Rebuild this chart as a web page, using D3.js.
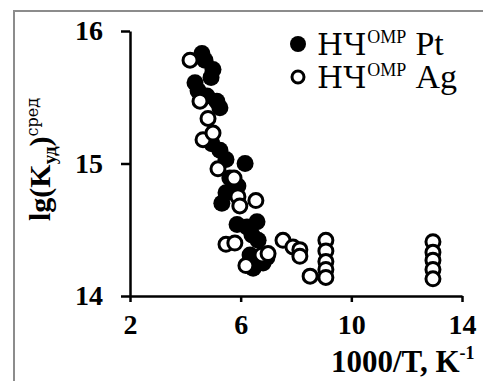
<!DOCTYPE html>
<html>
<head>
<meta charset="utf-8">
<script src="https://cdn.jsdelivr.net/npm/d3@7"></script>
<style>
  body { margin: 0; background: #fff; }
</style>
</head>
<body>
<svg width="483" height="381"></svg>
<script>
// Pt series (filled circles)
const ptX = [4.60, 4.71, 5.00, 4.93, 4.35, 4.46, 4.78, 5.14, 5.25, 4.96, 5.25, 5.47, 6.16, 5.61, 5.90, 5.32, 5.47, 5.87, 6.23, 6.59, 6.41, 6.63, 6.34, 6.45, 6.81, 6.95];
const ptY = [15.83, 15.78, 15.71, 15.65, 15.61, 15.55, 15.51, 15.47, 15.42, 15.15, 15.10, 15.03, 15.00, 14.89, 14.83, 14.70, 14.78, 14.54, 14.52, 14.56, 14.46, 14.42, 14.31, 14.21, 14.25, 14.29];
// Ag series (open circles)
const agX = [4.17, 4.53, 4.82, 4.64, 5.00, 5.18, 5.76, 5.90, 5.97, 6.55, 5.47, 5.79, 6.19, 6.77, 6.99, 7.53, 7.89, 8.14, 8.14, 8.51, 9.08, 9.08, 9.08, 9.08, 9.08, 12.95, 12.95, 12.95, 12.95, 12.95];
const agY = [15.78, 15.47, 15.34, 15.18, 15.23, 14.96, 14.89, 14.75, 14.68, 14.72, 14.39, 14.40, 14.23, 14.31, 14.32, 14.42, 14.37, 14.35, 14.30, 14.15, 14.42, 14.34, 14.26, 14.20, 14.14, 14.41, 14.33, 14.27, 14.20, 14.13];
const xTicks = [2, 6, 10, 14];
const yTicks = [14, 15, 16];

const FONT = '"Liberation Serif", "Times New Roman", serif';
// regular Liberation Serif here has no Cyrillic, so Cyrillic runs use DejaVu Serif
const CYR = '"DejaVu Serif", serif';
const svg = d3.select('svg');

// outer frame
svg.append('path')
  .attr('d', 'M14,381 V11 H483')
  .attr('fill', 'none')
  .attr('stroke', '#8c8c8c')
  .attr('stroke-width', 2);

const x = d3.scaleLinear().domain([2, 14]).range([130, 462]);
const y = d3.scaleLinear().domain([14, 16]).range([296, 31]);

const xAxis = svg.append('g')
  .attr('transform', `translate(0,${y(14)})`)
  .call(d3.axisBottom(x).tickValues(xTicks).tickFormat(d3.format('d'))
    .tickSize(6).tickSizeOuter(0).tickPadding(24));
const yAxis = svg.append('g')
  .attr('transform', `translate(${x(2)},0)`)
  .call(d3.axisLeft(y).tickValues(yTicks).tickFormat(d3.format('d'))
    .tickSize(9).tickSizeOuter(0).tickPadding(18));

[xAxis, yAxis].forEach(g => {
  g.attr('font-family', FONT);
  g.select('.domain').attr('stroke', '#000').attr('stroke-width', 2.5);
  g.selectAll('.tick line').attr('stroke', '#000').attr('stroke-width', 2.5);
  g.selectAll('.tick text')
    .attr('fill', '#000')
    .attr('font-family', FONT)
    .attr('font-weight', 'bold')
    .attr('font-size', 28);
});
xAxis.selectAll('.tick text').attr('dy', '0.3em');

// series
const ptData = ptX.map((v, i) => [v, ptY[i]]);
const agData = agX.map((v, i) => [v, agY[i]]);

svg.append('g').selectAll('circle')
  .data(ptData).enter().append('circle')
  .attr('cx', d => x(d[0]))
  .attr('cy', d => y(d[1]))
  .attr('r', 8.5)
  .attr('fill', '#000');

svg.append('g').selectAll('circle')
  .data(agData).enter().append('circle')
  .attr('cx', d => x(d[0]))
  .attr('cy', d => y(d[1]))
  .attr('r', 7)
  .attr('fill', '#fff')
  .attr('stroke', '#000')
  .attr('stroke-width', 3);

// legend
const legend = [
  { label: 'Pt', filled: true },
  { label: 'Ag', filled: false }
];
legend.forEach((d, i) => {
  const ly = 55 + i * 33;
  const c = svg.append('circle')
    .attr('cx', 298)
    .attr('cy', ly - 11)
    .attr('r', d.filled ? 8 : 6);
  if (d.filled) c.attr('fill', '#000');
  else c.attr('fill', '#fff').attr('stroke', '#000').attr('stroke-width', 3);

  const nch = svg.append('text')
    .attr('x', 317).attr('y', ly)
    .attr('font-family', CYR).attr('font-size', 30)
    .attr('fill', '#000')
    .text('НЧ');
  const x1 = 317 + nch.node().getComputedTextLength() + 1;
  const omp = svg.append('text')
    .attr('x', x1).attr('y', ly - 12)
    .attr('font-family', FONT).attr('font-size', 18)
    .attr('fill', '#000')
    .text('OMP');
  const x2 = x1 + omp.node().getComputedTextLength() + 9;
  svg.append('text')
    .attr('x', x2).attr('y', ly)
    .attr('font-family', FONT).attr('font-size', 34)
    .attr('fill', '#000')
    .text(d.label);
});

// x title
const xt = svg.append('text')
  .attr('x', 331)
  .attr('y', 372)
  .attr('font-family', FONT)
  .attr('font-size', 31)
  .attr('font-weight', 'bold')
  .attr('fill', '#000');
xt.append('tspan').text('1000/T, K');
xt.append('tspan').attr('font-size', 18).attr('dy', -13).text('-1');

// y title
const yt = svg.append('text')
  .attr('transform', 'translate(50,221) rotate(-90)')
  .attr('font-family', FONT)
  .attr('font-size', 30)
  .attr('font-weight', 'bold')
  .attr('fill', '#000');
yt.append('tspan').text('lg(K');
yt.append('tspan').attr('font-size', 19).attr('dy', 6).text('уд');
yt.append('tspan').attr('dy', -6).text(')');
yt.append('tspan').attr('font-family', CYR).attr('font-size', 16).attr('font-weight', 'normal').attr('dy', -12).text('сред');
</script>
</body>
</html>
